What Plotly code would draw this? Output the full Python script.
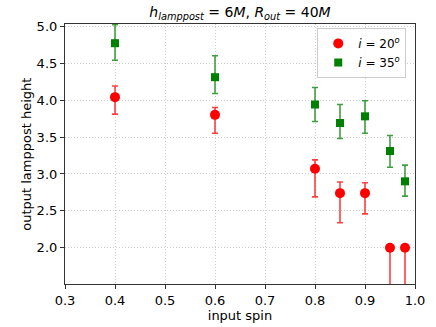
import plotly.graph_objects as go

spin = [0.4, 0.6, 0.8, 0.85, 0.9, 0.95, 0.98]

h20 = [4.04, 3.80, 3.07, 2.74, 2.74, 2.00, 2.00]
h20_up = [0.15, 0.10, 0.12, 0.15, 0.14, 0.0, 0.0]
h20_dn = [0.23, 0.25, 0.38, 0.40, 0.28, 0.60, 0.60]

h35 = [4.77, 4.31, 3.94, 3.69, 3.78, 3.31, 2.90]
h35_up = [0.25, 0.29, 0.23, 0.25, 0.21, 0.21, 0.22]
h35_dn = [0.23, 0.22, 0.23, 0.21, 0.23, 0.22, 0.20]

font = "DejaVu Sans"
fig = go.Figure()
fig.add_trace(go.Scatter(
    x=spin, y=h20, mode="markers", name="<i>i</i> = 20<sup><i>o</i></sup>",
    marker=dict(symbol="circle", size=10, color="red"),
    error_y=dict(type="data", symmetric=False, array=h20_up, arrayminus=h20_dn,
                 color="rgba(255,0,0,0.75)", thickness=1.6, width=3),
))
fig.add_trace(go.Scatter(
    x=spin, y=h35, mode="markers", name="<i>i</i> = 35<sup><i>o</i></sup>",
    marker=dict(symbol="square", size=8, color="green"),
    error_y=dict(type="data", symmetric=False, array=h35_up, arrayminus=h35_dn,
                 color="rgba(0,128,0,0.75)", thickness=1.6, width=3),
))

axis_common = dict(
    showline=True, linecolor="#333333", linewidth=1.2, mirror=True,
    ticks="outside", ticklen=4, tickcolor="#333333",
    showgrid=True, gridcolor="#cfcfcf", griddash="1px,2px", gridwidth=1,
    zeroline=False, automargin=False,
    tickfont=dict(family=font, size=13, color="black"),
)
fig.update_xaxes(range=[0.3, 1.0], dtick=0.1, tick0=0.3, tickformat=".1f",
                 title=dict(text="input spin", font=dict(family=font, size=13, color="black"), standoff=2),
                 **axis_common)
fig.update_yaxes(range=[1.51, 5.03], tickvals=[2.0, 2.5, 3.0, 3.5, 4.0, 4.5, 5.0], tickformat=".1f",
                 **axis_common)

fig.add_annotation(text="output lamppost height", textangle=-90,
                   xref="paper", yref="paper", x=-0.112, y=0.5,
                   xanchor="center", yanchor="middle", showarrow=False,
                   font=dict(family=font, size=13, color="black"))

fig.update_layout(
    width=436, height=327,
    margin=dict(l=65, r=21, t=24, b=43),
    paper_bgcolor="white", plot_bgcolor="white",
    title=dict(text="<i>h</i><sub><i>lamppost</i></sub> = 6<i>M</i>, <i>R</i><sub><i>out</i></sub> = 40<i>M</i>",
               x=0.5, xref="paper", y=0.962, yanchor="middle", automargin=False,
               font=dict(family=font, size=14, color="black")),
    legend=dict(x=0.975, y=0.985, xanchor="right", yanchor="top",
                bgcolor="rgba(255,255,255,0.8)", bordercolor="#cccccc", borderwidth=1,
                font=dict(family=font, size=12, color="black"), itemwidth=30,
                tracegroupgap=0),
    showlegend=True,
)
fig.write_html("out.html", config={"displayModeBar": False},
               post_script="document.body.style.margin='0';document.body.style.overflow='hidden';")
